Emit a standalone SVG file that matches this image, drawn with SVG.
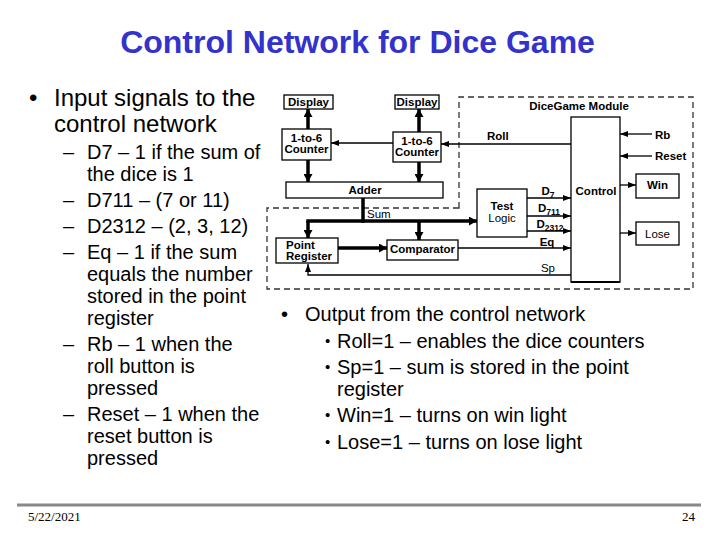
<svg xmlns="http://www.w3.org/2000/svg" width="720" height="540" viewBox="0 0 720 540">
<style>
.title{font:bold 32px "Liberation Sans",Arial,sans-serif;fill:#3333CC}
.m{font:24px "Liberation Sans",Arial,sans-serif;fill:#000}
.s{font:20px "Liberation Sans",Arial,sans-serif;fill:#000}
.b{font:15px "Liberation Sans",Arial,sans-serif;fill:#000}
.f{font:13px "Liberation Serif","Times New Roman",serif;fill:#000}
.lb{font:bold 11.5px "Liberation Sans",Arial,sans-serif;fill:#000}
.ln{font:11.5px "Liberation Sans",Arial,sans-serif;fill:#000}
.box{fill:#fff;stroke:#000;stroke-width:1.3}
.thin{stroke:#000;stroke-width:1.3;fill:none}
.bus{stroke:#000;stroke-width:3.5;fill:none}
.dash{stroke:#333;stroke-width:1.3;fill:none;stroke-dasharray:6 4}
</style>
<defs>
<marker id="a" viewBox="0 0 8 6" refX="8" refY="3" markerWidth="8" markerHeight="6" markerUnits="userSpaceOnUse" orient="auto"><path d="M0,0 L8,3 L0,6 z" fill="#000"/></marker>
<marker id="A" viewBox="0 0 8 9" refX="8" refY="4.5" markerWidth="8" markerHeight="9" markerUnits="userSpaceOnUse" orient="auto"><path d="M0,0 L8,4.5 L0,9 z" fill="#000"/></marker>
</defs>
<rect width="720" height="540" fill="#fff"/>
<text class="title" x="357.5" y="53" text-anchor="middle">Control Network for Dice Game</text>

<g id="left-text">
<text class="m" x="29" y="106">•</text>
<text class="m" x="54" y="106">Input signals to the</text>
<text class="m" x="54" y="132">control network</text>
<text class="s" x="63" y="159">–</text><text class="s" x="87" y="159">D7 – 1 if the sum of</text>
<text class="s" x="87" y="181">the dice is 1</text>
<text class="s" x="63" y="207">–</text><text class="s" x="87" y="207">D711 – (7 or 11)</text>
<text class="s" x="63" y="233">–</text><text class="s" x="87" y="233">D2312 – (2, 3, 12)</text>
<text class="s" x="63" y="259">–</text><text class="s" x="87" y="259">Eq – 1 if the sum</text>
<text class="s" x="87" y="281">equals the number</text>
<text class="s" x="87" y="303">stored in the point</text>
<text class="s" x="87" y="325">register</text>
<text class="s" x="63" y="351">–</text><text class="s" x="87" y="351">Rb – 1 when the</text>
<text class="s" x="87" y="373">roll button is</text>
<text class="s" x="87" y="395">pressed</text>
<text class="s" x="63" y="421">–</text><text class="s" x="87" y="421">Reset – 1 when the</text>
<text class="s" x="87" y="443">reset button is</text>
<text class="s" x="87" y="465">pressed</text>
</g>

<g id="right-text">
<text class="s" x="281" y="321">•</text><text class="s" x="305" y="321">Output from the control network</text>
<text class="b" x="325" y="346">•</text><text class="s" x="337" y="348">Roll=1 – enables the dice counters</text>
<text class="b" x="325" y="372">•</text><text class="s" x="337" y="374">Sp=1 – sum is stored in the point</text>
<text class="s" x="337" y="396">register</text>
<text class="b" x="325" y="420">•</text><text class="s" x="337" y="422">Win=1 – turns on win light</text>
<text class="b" x="325" y="447">•</text><text class="s" x="337" y="449">Lose=1 – turns on lose light</text>
</g>

<g id="footer">
<line x1="17" y1="505" x2="701" y2="505" stroke="#888" stroke-width="3"/>
<text class="f" x="28" y="521">5/22/2021</text>
<text class="f" x="695" y="521" text-anchor="end">24</text>
</g>

<g id="module-boundary">
<path class="dash" d="M459,208 L459,97 L693,97 L693,289 L267,289 L267,208 Z"/>
<text class="lb" x="579" y="110" text-anchor="middle">DiceGame Module</text>
</g>

<g id="connectors">
<line class="bus" x1="308" y1="129" x2="308" y2="109" marker-end="url(#A)"/>
<line class="bus" x1="419" y1="132" x2="419" y2="109" marker-end="url(#A)"/>
<line class="thin" x1="393" y1="143" x2="331" y2="143" marker-end="url(#a)"/>
<line class="thin" x1="571" y1="144" x2="441" y2="144" marker-end="url(#a)"/>
<line class="bus" x1="308" y1="160" x2="308" y2="182" marker-end="url(#A)"/>
<line class="bus" x1="419" y1="162" x2="419" y2="182" marker-end="url(#A)"/>
<line class="bus" x1="363" y1="198" x2="363" y2="222.7"/>
<line class="bus" x1="306.3" y1="221" x2="477" y2="221" marker-end="url(#A)"/>
<line class="bus" x1="308" y1="221" x2="308" y2="238" marker-end="url(#A)"/>
<line class="bus" x1="419" y1="221" x2="419" y2="240" marker-end="url(#A)"/>
<line class="bus" x1="338" y1="248" x2="387" y2="248" marker-end="url(#A)"/>
<line class="thin" x1="458" y1="248" x2="571" y2="248" marker-end="url(#a)"/>
<line class="thin" x1="527" y1="198" x2="571" y2="198" marker-end="url(#a)"/>
<line class="thin" x1="527" y1="216" x2="571" y2="216" marker-end="url(#a)"/>
<line class="thin" x1="527" y1="231" x2="571" y2="231" stroke-width="2.2" marker-end="url(#a)"/>
<polyline class="thin" points="571,275 308,275 308,264" marker-end="url(#a)"/>
<line class="thin" x1="652" y1="134" x2="620" y2="134" marker-end="url(#a)"/>
<line class="thin" x1="652" y1="156" x2="620" y2="156" marker-end="url(#a)"/>
<line class="thin" x1="620" y1="185" x2="636" y2="185" marker-end="url(#a)"/>
<line class="thin" x1="620" y1="233" x2="636" y2="233" marker-end="url(#a)"/>
<text class="lb" x="487" y="140">Roll</text>
<text class="lb" x="655" y="139">Rb</text>
<text class="lb" x="655" y="160">Reset</text>
<text class="ln" x="367" y="218">Sum</text>
<text class="lb" x="548" y="195" text-anchor="middle">D<tspan font-size="8.5" dy="3">7</tspan></text>
<text class="lb" x="549" y="212" text-anchor="middle">D<tspan font-size="8.5" dy="3">711</tspan></text>
<text class="lb" x="550" y="228" text-anchor="middle">D<tspan font-size="8.5" dy="3">2312</tspan></text>
<text class="lb" x="547" y="246" text-anchor="middle">Eq</text>
<text class="ln" x="548" y="272" text-anchor="middle">Sp</text>
</g>

<g id="display-left"><rect class="box" x="284" y="95" width="49" height="14"/><text class="lb" x="308.5" y="106" text-anchor="middle">Display</text></g>
<g id="display-right"><rect class="box" x="395" y="95" width="44" height="14"/><text class="lb" x="417" y="106" text-anchor="middle">Display</text></g>
<g id="counter-left"><rect class="box" x="282" y="129" width="49" height="31"/><text class="lb" x="306.5" y="142" text-anchor="middle">1-to-6</text><text class="lb" x="306.5" y="153" text-anchor="middle">Counter</text></g>
<g id="counter-right"><rect class="box" x="393" y="132" width="48" height="30"/><text class="lb" x="417" y="145" text-anchor="middle">1-to-6</text><text class="lb" x="417" y="156" text-anchor="middle">Counter</text></g>
<g id="adder"><rect class="box" x="286" y="182" width="157" height="16"/><text class="lb" x="365" y="194" text-anchor="middle">Adder</text></g>
<g id="point-register"><rect class="box" x="276" y="238" width="62" height="25"/><text class="lb" x="286" y="249">Point</text><text class="lb" x="286" y="260">Register</text></g>
<g id="comparator"><rect class="box" x="387" y="240" width="71" height="20"/><text class="lb" x="422.5" y="253" text-anchor="middle">Comparator</text></g>
<g id="test-logic"><rect class="box" x="477" y="189" width="50" height="48"/><text class="lb" x="502" y="210" text-anchor="middle">Test</text><text class="ln" x="502" y="222" text-anchor="middle">Logic</text></g>
<g id="control"><rect class="box" x="571" y="117" width="49" height="165"/><line x1="571" y1="282" x2="620" y2="282" stroke="#000" stroke-width="2"/><text class="lb" x="596" y="195" text-anchor="middle">Control</text></g>
<g id="win"><rect class="box" x="636" y="174" width="43" height="24"/><text class="lb" x="657.5" y="189" text-anchor="middle">Win</text></g>
<g id="lose"><rect class="box" x="636" y="222" width="43" height="23"/><text class="ln" x="657.5" y="238" text-anchor="middle">Lose</text></g>
</svg>
